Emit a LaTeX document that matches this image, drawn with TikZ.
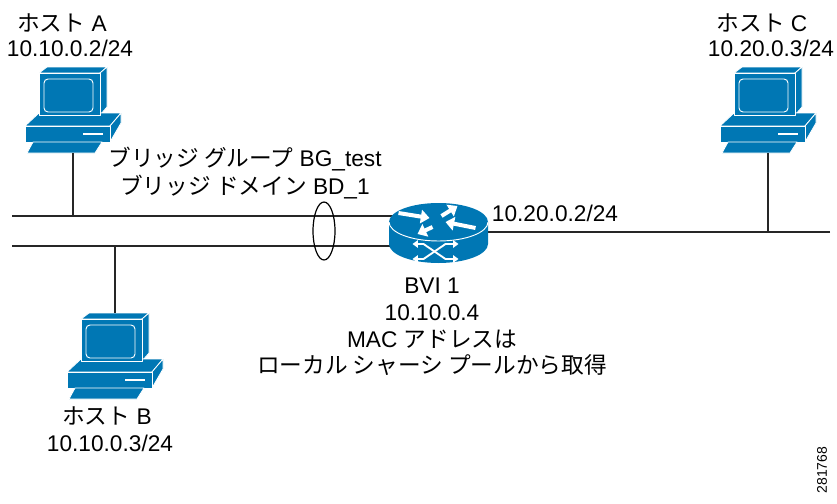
\documentclass[tikz,border=0pt]{standalone}
\usepackage{fontspec}
\setmainfont{Liberation Sans}
\newfontfamily\jp{Noto Sans CJK JP}
\usetikzlibrary{shapes.geometric,arrows.meta}
\definecolor{ciscoblue}{RGB}{0,119,180}

\tikzset{
  wire/.style={line width=0.9pt, black!85},
  lbl/.style={font=\fontsize{17}{20}\selectfont, align=center, inner sep=0pt},
  face/.style={fill=ciscoblue, draw=white, line width=0.6pt, line join=round},
  flow/.style={white, line width=3pt, -{Triangle[length=6.5pt,width=10pt]}},
  cross/.style={white, line width=1.4pt, {Triangle[length=4pt,width=5.5pt]}-{Triangle[length=4pt,width=5.5pt]}},
  % workstation, origin at top left corner
  pc/.pic={
    \path[face] (14,6) -- (22,0) -- (82,0) -- (75,6) -- cycle;
    \path[face] (75,6) -- (82,0) -- (82,40) -- (75,48) -- cycle;
    \path[face] (0,59) -- (14,46) -- (96,46) -- (85,59) -- cycle;
    \path[face] (85,59) -- (96,46) -- (96,56) -- (85,75) -- cycle;
    \path[face] (0,59) rectangle (85,75);
    \path[face] (14,6) rectangle (75,48);
    \draw[white, line width=0.7pt, rounded corners=3pt] (19,12) rectangle (68,45);
    \draw[white, line width=1.4pt] (58,67) -- (78,67);
    \path[face] (2,86) -- (8,75) -- (77,75) -- (70,86) -- cycle;
    \coordinate (-top) at (48,0);
    \coordinate (-kbd) at (48,86);
  },
  % router, origin at centre of the top face
  router/.pic={
    \fill[ciscoblue] (-49.5,0) -- (-49.5,22)
      arc[start angle=180, end angle=0, x radius=49.5, y radius=19] -- (49.5,0) -- cycle;
    \fill[ciscoblue] (0,0) ellipse[x radius=49.5, y radius=19];
    \draw[white, line width=0.7pt] (-49.5,0)
      arc[start angle=180, end angle=0, x radius=49.5, y radius=19];
    \draw[flow] (-40,-9) -- (-9,-4);
    \draw[flow] (37,6) -- (7,0);
    \draw[flow] (3,-6) -- (19,-16);
    \draw[flow] (-6,5) -- (-21,12);
    \draw[cross] (-26,22) -- (-15,22) -- (7,37) -- (20,37);
    \draw[cross] (-26,37) -- (-15,37) -- (7,22) -- (20,22);
  }
}

\begin{document}
\begin{tikzpicture}[x=0.75pt,y=-0.75pt]
\useasboundingbox (0,0) rectangle (837,503);

\coordinate (busA) at (12,216);
\coordinate (busB) at (12,246);
\coordinate (busC) at (830,232);
\coordinate (bvi) at (438.5,222);

% segments
\draw[wire] (busA) -- (busA -| bvi);
\draw[wire] (busB) -- (busB -| bvi);
\draw[wire] (busC) -- (busC -| bvi);

\pic (rt) at (bvi) {router};
\pic (hostA) at (25,67) {pc};
\pic (hostB) at (67,313) {pc};
\pic (hostC) at (720,67) {pc};

\draw[wire] (hostA-kbd) -- (hostA-kbd |- busA);
\draw[wire] (hostC-kbd) -- (hostC-kbd |- busC);
\draw[wire] (hostB-top) -- (hostB-top |- busB);

\node[draw, ellipse, line width=0.9pt, minimum width=16.5pt, minimum height=43.5pt, inner sep=0pt] (bundle) at (324,231) {};

% labels
\node[lbl] (hostAname) at (62,23) {{\jp ホスト} A};
\node[lbl] (hostAip) at (70,48) {10.10.0.2/24};
\node[lbl] (hostCname) at (762,23) {{\jp ホスト} C};
\node[lbl] (hostCip) at (771,48) {10.20.0.3/24};
\node[lbl] (hostBname) at (107,416) {{\jp ホスト} B};
\node[lbl] (hostBip) at (110,443) {10.10.0.3/24};
\node[lbl, font=\fontsize{17}{21}\selectfont] (bgname) at (245,173) {{\jp ブリッジ グループ} BG\_test\\{\jp ブリッジ ドメイン} BD\_1};
\node[lbl] (bviip) at (555,213) {10.20.0.2/24};
\node[lbl] (bviname) at (432,327) {BVI 1\\10.10.0.4\\MAC {\jp アドレスは}\\{\jp ローカル シャーシ プールから取得}};
\node[font=\fontsize{10.5}{12}\selectfont, rotate=90, inner sep=0pt] (figno) at (822,470) {281768};
\end{tikzpicture}
\end{document}
